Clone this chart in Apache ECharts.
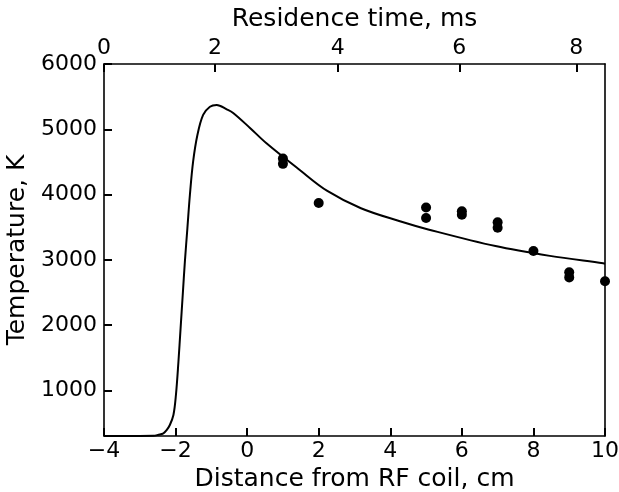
<!DOCTYPE html>
<html>
<head>
<meta charset="utf-8">
<script src="https://cdn.jsdelivr.net/npm/echarts@6/dist/echarts.min.js"></script>
<style>
  html, body { margin: 0; padding: 0; background: #fff; }
  #chart { width: 619px; height: 492px; }
</style>
</head>
<body>
<div id="chart"></div>
<script>
// model curve: distance from RF coil (cm) vs temperature (K)
const curveX = [-4, -3, -2.62, -2.48, -2.34, -2.25, -2.16, -2.06, -1.99, -1.92, -1.86, -1.8, -1.74, -1.67, -1.6,
  -1.51, -1.39, -1.23, -1.04, -0.85, -0.57, -0.39, 0.08, 0.54, 1.47, 2.24, 3.18, 4.27, 5.06, 6.94, 8.46, 9.95, 10]
const curveT = [300, 300, 302, 318, 341, 390, 468, 621, 928, 1438, 1950, 2460, 2971, 3482, 3993,
  4503, 4912, 5219, 5346, 5372, 5305, 5250, 5020, 4785, 4376, 4055, 3790, 3590, 3465, 3210, 3060, 2946, 2940]

// measured points
const pointX = [1, 1, 2, 5, 5, 6, 6, 7, 7, 8, 9, 9, 10]
const pointT = [4552, 4470, 3870, 3800, 3640, 3745, 3690, 3575, 3490, 3135, 2810, 2730, 2670]

// axis ticks
const yTicks = [1000, 2000, 3000, 4000, 5000, 6000]
const topTickTimes = [0, 2, 4, 6, 8]
const topTickPos = [-4, -0.9, 2.53, 5.93, 9.2]

const font = "DejaVu Sans"
const black = "#000"
const titleSize = 25
const labelSize = 22

const chart = echarts.init(document.getElementById("chart"))

const axisLine = {show: true, onZero: false, lineStyle: {color: black, width: 1.6}}
const titleStyle = {color: black, fontSize: titleSize, fontFamily: font}
const labelStyle = {color: black, fontSize: labelSize, fontFamily: font}
const tickLine = {color: black, width: 2}

chart.setOption({
  animation: false,
  grid: {left: 104, right: 14, top: 64, bottom: 56, outerBoundsMode: "none"},
  xAxis: [
    {
      type: "value",
      position: "bottom",
      min: -4,
      max: 10,
      interval: 2,
      name: "Distance from RF coil, cm",
      nameLocation: "middle",
      nameGap: 30,
      nameTextStyle: titleStyle,
      axisLine: axisLine,
      axisTick: {show: true, inside: true, length: 8, lineStyle: tickLine},
      axisLabel: {...labelStyle, margin: 4, formatter: v => String(v).replace("-", "\u2212")},
      splitLine: {show: false},
    },
    {
      type: "value",
      position: "top",
      min: -4,
      max: 10,
      name: "Residence time, ms",
      nameLocation: "middle",
      nameGap: 20,
      nameTextStyle: titleStyle,
      axisLine: axisLine,
      axisTick: {show: true, inside: true, length: 8, lineStyle: tickLine, customValues: topTickPos},
      axisLabel: {
        ...labelStyle,
        margin: 5,
        customValues: topTickPos,
        formatter: v => {
          const i = topTickPos.findIndex(p => Math.abs(p - v) < 1e-6)
          return i >= 0 ? String(topTickTimes[i]) : ""
        },
      },
      splitLine: {show: false},
    },
  ],
  yAxis: [
    {
      type: "value",
      position: "left",
      min: 300,
      max: 6000,
      name: "Temperature, K",
      nameLocation: "middle",
      nameGap: 57,
      nameTextStyle: titleStyle,
      axisLine: axisLine,
      axisTick: {show: true, inside: true, length: 8, lineStyle: tickLine, customValues: yTicks},
      axisLabel: {...labelStyle, margin: 7, customValues: yTicks, formatter: v => String(v)},
      splitLine: {show: false},
    },
    {
      type: "value",
      position: "right",
      min: 300,
      max: 6000,
      axisLine: axisLine,
      axisTick: {show: false},
      axisLabel: {show: false},
      splitLine: {show: false},
    },
  ],
  series: [
    {
      type: "line",
      data: curveX.map((x, i) => [x, curveT[i]]),
      showSymbol: false,
      smooth: 0.35,
      lineStyle: {color: black, width: 2},
      z: 2,
    },
    {
      type: "scatter",
      data: pointX.map((x, i) => [x, pointT[i]]),
      symbolSize: 10,
      itemStyle: {color: black, opacity: 1},
      z: 3,
    },
  ],
})
</script>
</body>
</html>
